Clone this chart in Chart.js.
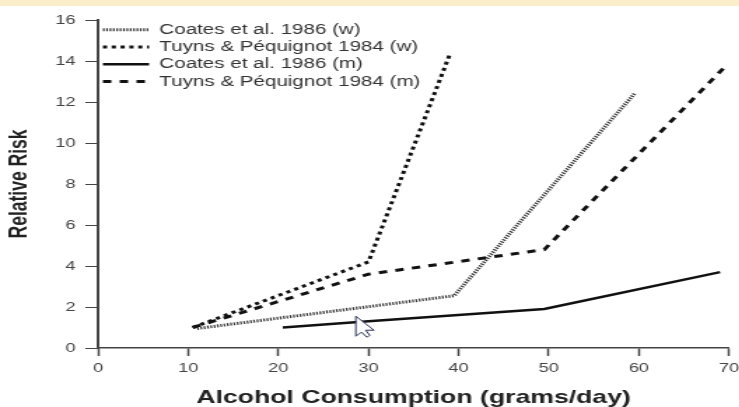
<!DOCTYPE html>
<html>
<head>
<meta charset="utf-8">
<script src="https://cdn.jsdelivr.net/npm/chart.js@4"></script>
<style>
    html, body { margin: 0; padding: 0; background: #fff; overflow: hidden; width: 739px; height: 407px; }
    #band { position: absolute; left: 0; top: 0; width: 739px; height: 6px; background: #fdeecb; }
    /* the reference is a soft scan stretched sideways, so the whole canvas gets the same treatment */
    #wrap { position: absolute; left: 0; top: 0; width: 533px; height: 407px; transform: scaleX(1.4); transform-origin: 0 0; filter: blur(0.4px); }
</style>
</head>
<body>
<div id="band"></div>
<div id="wrap"><canvas id="riskChart" width="533" height="407"></canvas></div>
<script>
const coatesWomenX = [11, 39.5, 59.5];
const coatesWomenY = [0.95, 2.55, 12.4];
const tuynsWomenX = [10.5, 30, 39];
const tuynsWomenY = [1, 4.2, 14.3];
const coatesMenX = [20.5, 30, 49.5, 69];
const coatesMenY = [1, 1.3, 1.9, 3.7];
const tuynsMenX = [10.5, 30, 49.5, 69.5];
const tuynsMenY = [1, 3.6, 4.8, 13.7];
const cursorAt = [28.6, 1.55];

const toPoints = (xs, ys) => xs.map((x, i) => ({ x: x, y: ys[i] }));

// mouse pointer that is baked into the reference image
const cursorPlugin = {
    id: 'cursorMark',
    afterDatasetsDraw(chart) {
        const ctx = chart.ctx;
        const px = chart.scales.x.getPixelForValue(cursorAt[0]);
        const py = chart.scales.y.getPixelForValue(cursorAt[1]);
        ctx.save();
        ctx.translate(px, py);
        ctx.beginPath();
        ctx.moveTo(0, 0);
        ctx.lineTo(0, 20);
        ctx.lineTo(4, 16);
        ctx.lineTo(8, 21);
        ctx.lineTo(10, 19);
        ctx.lineTo(7, 14);
        ctx.lineTo(13, 14);
        ctx.closePath();
        ctx.fillStyle = '#fff';
        ctx.fill();
        ctx.strokeStyle = '#2a3358';
        ctx.lineWidth = 1;
        ctx.stroke();
        ctx.restore();
    }
};

// legend has no free placement option, nudge it after the layout pass
const legendNudge = {
    id: 'legendNudge',
    afterLayout(chart) {
        chart.legend.left += 1;
        chart.legend.top += 20;
    }
};

// legend swatch is a zero height rect stroked out and back, so boxWidth 33
// and these dash lengths are picked to make both passes land on each other
new Chart(document.getElementById('riskChart'), {
    type: 'scatter',
    data: {
        datasets: [{
            label: 'Coates et al. 1986 (w)',
            data: toPoints(coatesWomenX, coatesWomenY),
            borderColor: '#333',
            borderWidth: 3,
            borderDash: [1.2, 1.2]
        }, {
            label: 'Tuyns & Péquignot 1984 (w)',
            data: toPoints(tuynsWomenX, tuynsWomenY),
            borderColor: '#111',
            borderWidth: 3,
            borderDash: [3, 3.3]
        }, {
            label: 'Coates et al. 1986 (m)',
            data: toPoints(coatesMenX, coatesMenY),
            borderColor: '#111',
            borderWidth: 2.5
        }, {
            label: 'Tuyns & Péquignot 1984 (m)',
            data: toPoints(tuynsMenX, tuynsMenY),
            borderColor: '#111',
            borderWidth: 3,
            borderDash: [6, 6]
        }]
    },
    options: {
        responsive: false,
        animation: false,
        showLine: true,
        elements: { point: { radius: 0 }, line: { tension: 0, fill: false } },
        layout: { padding: { top: 20, right: 8, left: 0, bottom: 0 } },
        scales: {
            x: {
                type: 'linear',
                min: 0,
                max: 70,
                afterFit(scale) { scale.height = 59; },
                border: { color: '#444', width: 1.5 },
                grid: { drawOnChartArea: false, tickLength: 8, tickColor: '#444', tickWidth: 1.5 },
                ticks: { stepSize: 10, maxRotation: 0, color: '#444', padding: 5, font: { family: 'Liberation Sans', size: 13 } },
                title: { display: true, text: 'Alcohol Consumption (grams/day)', color: '#222', padding: { top: 3, bottom: -2 }, font: { family: 'Liberation Sans', size: 19, weight: 'bold' } }
            },
            y: {
                min: 0,
                max: 16,
                afterFit(scale) { scale.width = 70; },
                border: { color: '#444', width: 2 },
                grid: { drawOnChartArea: false, tickLength: 9, tickColor: '#444', tickWidth: 1 },
                ticks: { stepSize: 2, color: '#444', padding: 7, font: { family: 'Liberation Sans', size: 13 } },
                title: { display: true, text: 'Relative Risk', color: '#222', padding: { top: 4, bottom: 0 }, font: { family: 'Liberation Sans', size: 17.5, weight: 'bold' } }
            }
        },
        plugins: {
            tooltip: { enabled: false },
            legend: {
                position: 'chartArea',
                align: 'start',
                labels: {
                    boxWidth: 33,
                    boxHeight: 0,
                    padding: 2.5,
                    color: '#333',
                    font: { family: 'Liberation Sans', size: 14.7 }
                }
            }
        }
    },
    plugins: [cursorPlugin, legendNudge]
});
</script>
</body>
</html>
